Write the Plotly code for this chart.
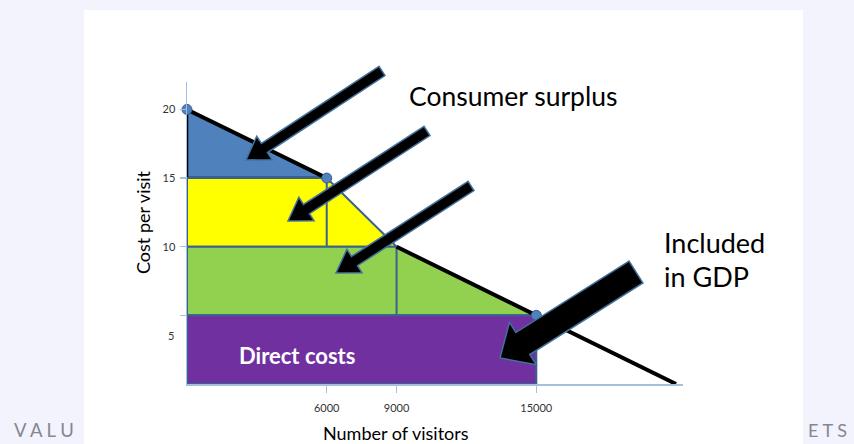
import plotly.graph_objects as go
import math

# ---------------- data ----------------
quantity = [0, 6000, 9000, 15000]      # number of visitors at each step
price = [20, 15, 10, 5]                # cost per visit at each step
demand_end_q = 21000                   # demand line reaches zero cost here
x_ticks = [6000, 9000, 15000]
x_tick_labels = ["6000", "9000", "15000"]
y_ticks = [5, 10, 15, 20]
y_tick_labels = ["", "10", "15", "20"]

band_colors = ["#4f81bd", "#ffff00", "#92d050", "#7030a0"]
edge = "#3b6190"

# ---------------- geometry of the figure (pixels) ----------------
W, H = 854, 444
L, R, T, B = 187, 683, 82, 384


def pp(X, Y):
    return (X - L) / (R - L), (B - Y) / (B - T)


fig = go.Figure()

# bands
n = len(price)
for k in range(n):
    top = price[k]
    bottom = price[k + 1] if k + 1 < n else 0
    q_top = quantity[k] if k < n - 1 else quantity[-1]
    q_bot = quantity[k + 1] if k + 1 < n else quantity[-1]
    xs = [0, 0, q_top, q_bot, 0]
    ys = [bottom, top, top, bottom, bottom]
    fig.add_trace(go.Scatter(
        x=xs, y=ys, mode="lines", fill="toself",
        fillcolor=band_colors[k],
        line=dict(color="black" if k == 0 else edge, width=2.5 if k == 0 else 2),
        hoverinfo="skip", showlegend=False))
    if 0 < k < n - 1:
        fig.add_trace(go.Scatter(
            x=[quantity[k], quantity[k]], y=[bottom, top], mode="lines",
            line=dict(color=edge, width=2), hoverinfo="skip", showlegend=False))

# demand line (black)
fig.add_trace(go.Scatter(
    x=[quantity[0], quantity[1], None, quantity[2], demand_end_q],
    y=[price[0], price[1], None, price[2], 0],
    mode="lines", line=dict(color="black", width=4),
    hoverinfo="skip", showlegend=False))

# points
fig.add_trace(go.Scatter(
    x=[quantity[0], quantity[1], quantity[3]],
    y=[price[0], price[1], price[3]],
    mode="markers", cliponaxis=False,
    marker=dict(size=10, color="#4f81bd", line=dict(color="#385d8a", width=1)),
    hoverinfo="skip", showlegend=False))

shapes = []
# white slide over lavender page
x0, y0 = pp(84, 10)
x1, y1 = pp(803, 444)
shapes.append(dict(type="rect", xref="paper", yref="paper",
                   x0=x0, y0=y1, x1=x1, y1=y0,
                   fillcolor="white", line=dict(width=0), layer="below"))


def arrow(tail, tip, w, hw, hl):
    dx, dy = tip[0] - tail[0], tip[1] - tail[1]
    ln = math.hypot(dx, dy)
    ux, uy = dx / ln, dy / ln
    nx, ny = -uy, ux
    bx, by = tip[0] - ux * hl, tip[1] - uy * hl
    pts = [
        (tail[0] + nx * w / 2, tail[1] + ny * w / 2),
        (bx + nx * w / 2, by + ny * w / 2),
        (bx + nx * hw / 2, by + ny * hw / 2),
        tip,
        (bx - nx * hw / 2, by - ny * hw / 2),
        (bx - nx * w / 2, by - ny * w / 2),
        (tail[0] - nx * w / 2, tail[1] - ny * w / 2),
    ]
    path = ""
    for i, (X, Y) in enumerate(pts):
        px, py = pp(X, Y)
        path += ("M" if i == 0 else "L") + f"{px:.5f},{py:.5f} "
    path += "Z"
    return dict(type="path", xref="paper", yref="paper", path=path,
                fillcolor="black", line=dict(color="#41719c", width=1.5),
                layer="above")


shapes.append(arrow((382, 71), (246, 160), 11, 28, 22))
shapes.append(arrow((427, 131), (288, 221), 11, 28, 22))
shapes.append(arrow((471, 186), (336, 273), 11, 28, 22))
shapes.append(arrow((636, 272), (500, 358), 26, 50, 27))

FONT = "Lato"
annotations = []


def txt(text, X, Y, size, color="black", xanchor="left", yanchor="middle",
        bold=False, angle=0):
    px, py = pp(X, Y)
    annotations.append(dict(
        text=f"<b>{text}</b>" if bold else text, x=px, y=py,
        xref="paper", yref="paper", xanchor=xanchor, yanchor=yanchor,
        showarrow=False, textangle=angle,
        font=dict(family=FONT, size=size, color=color)))


txt("Consumer surplus", 407, 96, 26.5)
txt("Included", 662, 243, 27)
txt("in GDP", 662, 276, 27)
txt("Direct costs", 237, 355, 22, color="white", bold=True)
txt("Cost per visit", 143, 222, 18, xanchor="center", angle=-90)
txt("Number of visitors", 396, 433, 18, xanchor="center")
txt("5", 176, 335, 11, color="#333333", xanchor="right")
txt("V A L U", 12, 430, 18.5, color="#85868f")
txt("E T S", 806, 430, 18, color="#85868f")

fig.update_layout(
    width=W, height=H,
    margin=dict(l=L, r=W - R, t=T, b=H - B, pad=0),
    paper_bgcolor="#f2f3fc",
    plot_bgcolor="white",
    shapes=shapes,
    annotations=annotations,
    showlegend=False,
    hovermode=False,
    xaxis=dict(range=[0, 21300], tickvals=x_ticks, ticktext=x_tick_labels,
               showgrid=False, zeroline=False, showline=True,
               linecolor="#a6bfdc", linewidth=1.5, ticks="outside",
               ticklen=7, tickcolor="#a6bfdc", tickwidth=1.5,
               ticklabelstandoff=6,
               tickfont=dict(family=FONT, size=11, color="#333333")),
    yaxis=dict(range=[0, 22], tickvals=y_ticks, ticktext=y_tick_labels,
               showgrid=False, zeroline=False, showline=True,
               linecolor="#a6bfdc", linewidth=1.5, ticks="outside",
               ticklen=6, tickcolor="#a6bfdc", tickwidth=1.5,
               ticklabelstandoff=2,
               tickfont=dict(family=FONT, size=11, color="#333333")),
)

fig.write_html("out.html",
               config={"displayModeBar": False, "staticPlot": True},
               post_script="document.body.style.margin='0';"
                           "document.body.style.overflow='hidden';")
